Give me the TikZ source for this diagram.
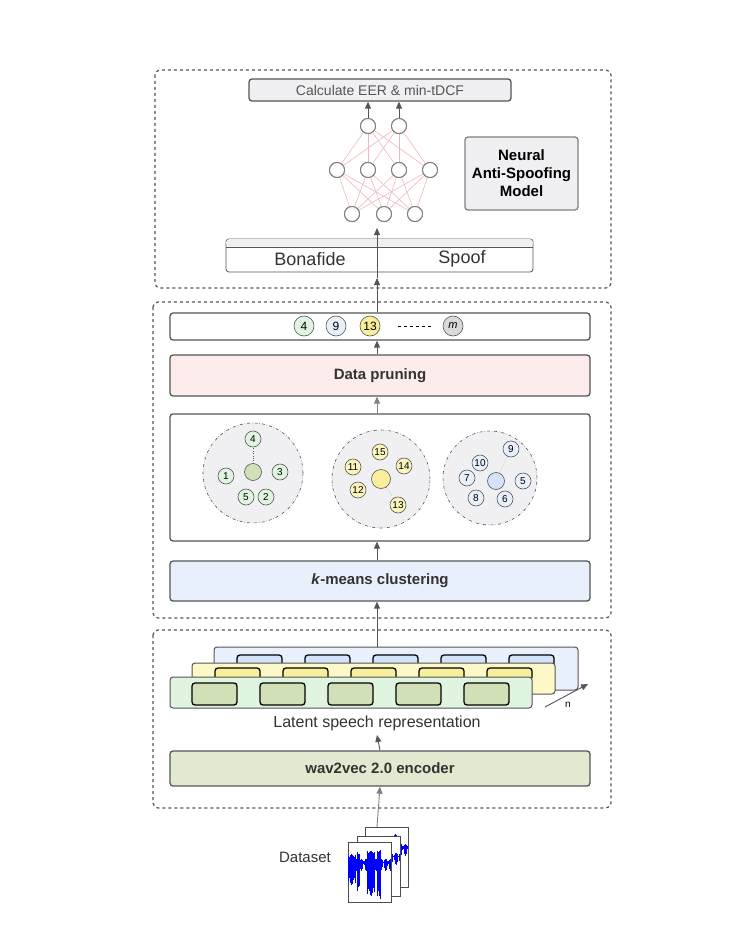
\documentclass[tikz,border=0pt]{standalone}
\usepackage{fontspec}
\setmainfont{Liberation Sans}
\usetikzlibrary{arrows.meta}
\definecolor{edge}{HTML}{555555}
\definecolor{gfill}{HTML}{DFF5DF}\definecolor{gdark}{HTML}{D2E0B8}
\definecolor{yfill}{HTML}{FCF8C8}\definecolor{ydark}{HTML}{F8EE9C}
\definecolor{bfill}{HTML}{E8F0FC}\definecolor{bdark}{HTML}{D2E3FA}
\definecolor{pink}{HTML}{FDECEC}\definecolor{wfill}{HTML}{E1EAD0}
\definecolor{cgray}{HTML}{F0F0F2}\definecolor{nnline}{HTML}{F0B8B8}
\tikzset{
 dbox/.style={draw=edge,dashed,line width=1.2pt,rounded corners=5pt},
 box/.style={draw=edge,line width=1.3pt,rounded corners=3pt},
 arr/.style={draw=edge,line width=0.9pt,-{Triangle[length=7pt,width=6pt]}},
 neuron/.style={circle,draw=gray,line width=1pt,fill=white,minimum size=15pt,inner sep=0},
 sn/.style={circle,draw=edge,line width=0.6pt,minimum size=16pt,inner sep=0,font=\fontsize{10}{10}\selectfont},
 clus/.style={circle,draw=edge,dash dot,fill=cgray,line width=0.6pt},
 ibox/.style={draw=black,line width=1.3pt,rounded corners=3pt},
}
\begin{document}
\begin{tikzpicture}[x=1pt,y=-1pt]
\useasboundingbox (0,0) rectangle (750,933);
% dashed groups
\draw[dbox] (155,70) rectangle (611,288);
\draw[dbox] (153,302) rectangle (611,618);
\draw[dbox] (153,630) rectangle (611,808);
% top section
\node[box,fill=cgray,minimum width=262pt,minimum height=22pt,inner sep=0,font=\fontsize{14}{14}\selectfont,text=edge] (calc) at (380,90) {Calculate EER \& min-tDCF};
\node[box,draw=gray,fill=cgray,minimum width=113pt,minimum height=73pt,align=center,font=\bfseries\fontsize{15}{18}\selectfont] (nasm) at (521.5,173.5) {Neural\\Anti-Spoofing\\Model};
\foreach \n/\x/\y in {t1/368/126,t2/399/126,m1/337/170,m2/368/170,m3/399/170,m4/430/170,b1/352/214,b2/384/214,b3/415/214}
  \node[neuron] (\n) at (\x,\y) {};
\foreach \a in {t1,t2} \foreach \b in {m1,m2,m3,m4} \draw[nnline,line width=0.6pt] (\a) -- (\b);
\foreach \a in {m1,m2,m3,m4} \foreach \b in {b1,b2,b3} \draw[nnline,line width=0.6pt] (\a) -- (\b);
\foreach \n/\x/\y in {t1/368/126,t2/399/126,m1/337/170,m2/368/170,m3/399/170,m4/430/170,b1/352/214,b2/384/214,b3/415/214}
  \node[neuron] at (\x,\y) {};
\draw[arr] (t1) -- (t1|-calc.south);
\draw[arr] (t2) -- (t2|-calc.south);
\node[draw=edge,line width=0.8pt,rounded corners=3pt,minimum width=307pt,minimum height=33pt,inner sep=0] (bs) at (379.5,255.5) {};
\fill[cgray,rounded corners=3pt] ([shift={(0.6,0.6)}]bs.north west) rectangle ([shift={(-0.6,8)}]bs.north east);
\draw[edge,line width=0.8pt] (226,247) -- (533,247);
\node[font=\fontsize{18}{18}\selectfont,text=black!80] (bona) at (310,259) {Bonafide};
\node[font=\fontsize{18}{18}\selectfont,text=black!80] (spoof) at (462,259) {Spoof};
% middle section
\node[box,fill=white,minimum width=420pt,minimum height=27pt,inner sep=0] (strip) at (380,326.5) {};
\node[sn,fill=gfill,minimum size=20pt,font=\fontsize{12}{12}\selectfont] (s4) at (304,326) {4};
\node[sn,fill=bfill,minimum size=20pt,font=\fontsize{12}{12}\selectfont] (s9) at (336,326) {9};
\node[sn,fill=ydark,minimum size=20pt,font=\fontsize{12}{12}\selectfont] (s13) at (370,326) {13};
\draw[line width=0.8pt,dashed] (398,326) -- (433,326);
\node[sn,fill=gray!30,minimum size=20pt,font=\itshape\fontsize{11}{11}\selectfont] (sm) at (453,326) {m};
\node[box,fill=pink,minimum width=420pt,minimum height=41pt,font=\bfseries\fontsize{15}{15}\selectfont,text=black!80] (prune) at (380,375.5) {Data pruning};
\node[box,fill=white,minimum width=420pt,minimum height=127pt] (cl) at (380,477.5) {};
\node[box,fill=bfill,minimum width=420pt,minimum height=40pt,font=\fontsize{15}{15}\selectfont,text=black!80] (km) at (380,581) {\textbf{\textit{k}-means clustering}};
% clusters
\node[clus,minimum size=100pt] (c1) at (253,473) {};
\node[clus,minimum size=98pt] (c2) at (381,479) {};
\node[clus,minimum size=94pt] (c3) at (490,478) {};
\node[sn,fill=gdark,minimum size=17pt] (g0) at (253,472) {};
\foreach \l/\x/\y in {4/253/439,1/226/476,3/280/472,5/246/497,2/266/497}
  \node[sn,fill=gfill] (g\l) at (\x,\y) {\l};
\draw[dotted,edge] (g0) -- (g4);
\node[sn,fill=ydark,minimum size=19pt] (y0) at (381,479) {};
\foreach \l/\x/\y in {15/380/452,11/353/467,14/404/466,12/358/490,13/398/505}
  \node[sn,fill=yfill!70!ydark] (y\l) at (\x,\y) {\l};
\draw[dotted,edge] (y0) -- (y13);
\node[sn,fill=bdark,minimum size=17pt] (u0) at (496,481) {};
\foreach \l/\x/\y in {9/511/449,10/480/463,7/467/478,5/523/481,8/476/498,6/505/499}
  \node[sn,fill=bfill] (u\l) at (\x,\y) {\l};
\draw[dotted,edge] (u0) -- (u9);
% bottom section
\node[draw=edge,line width=1pt,fill=bfill,rounded corners=3pt,minimum width=364pt,minimum height=43pt] (sb) at (396,668.5) {};
\foreach \x in {237,305,373,441,509} \draw[ibox,fill=bdark] (\x,664) -- (\x,655) -- (\x+45,655) -- (\x+45,664);
\node[draw=edge,line width=1pt,fill=yfill,rounded corners=3pt,minimum width=363pt,minimum height=31pt] (sy) at (373.5,678.5) {};
\foreach \x in {215,283,351,419,487} \draw[ibox,fill=ydark] (\x,678) -- (\x,668) -- (\x+45,668) -- (\x+45,678);
\node[draw=edge,line width=1pt,fill=gfill,rounded corners=3pt,minimum width=362pt,minimum height=31pt] (sg) at (351,692.5) {};
\foreach \x in {192,260,328,396,464} \draw[ibox,fill=gdark] (\x,683) rectangle (\x+45,705);
\coordinate (n0) at (545,707); \coordinate (n1) at (588,684);
\draw[arr] (n0) -- (n1);
\node[font=\fontsize{10}{10}\selectfont\rmfamily] (nl) at (568,705) {n};
\node[font=\fontsize{16}{16}\selectfont,text=black!80] (lat) at (377,723) {Latent speech representation};
\node[box,fill=wfill,minimum width=420pt,minimum height=35pt,font=\bfseries\fontsize{15}{15}\selectfont,text=black!80] (w2v) at (380,768.5) {wav2vec 2.0 encoder};
% dataset
\node[font=\fontsize{15}{15}\selectfont,text=black!80] (ds) at (305,857) {Dataset};
\foreach \dx/\dy/\s in {17/-15/1,9/-6/2,0/0/3}{
 \begin{scope}[shift={(348+\dx,842+\dy)}]
 \draw[fill=white,draw=black!70,line width=0.6pt] (0,0) rectangle (43,60);
 \clip (0,0) rectangle (43,60);
 \foreach \i in {0,...,42}{
   \pgfmathsetmacro{\a}{(abs(sin(\i*37+\s*50))*5+ (\i>18 && \i<27 ? 14 : 0) + (\i>28 && \i<33 ? 16 : 0) + (\i<8 ? 8 : 0) + (\i>8 && \i<12 ? 12 : 0))}
   \draw[blue,line width=0.9pt] (\i+0.5,20-\a*0.6) -- (\i+0.5,20+\a*1.8);
 }
 \draw[blue,line width=0.6pt] (0,20) -- (43,20);
 \end{scope}}
\coordinate (dtop) at (377,827);
% connectors
\draw[arr,draw=gray] (dtop) -- (w2v.south);
\draw[arr] (w2v.north) -- (377,735);
\draw[arr] (sb.north-|377,0) -- (km.south-|377,0);
\draw[line width=0.9pt,edge] (377,647) -- (377,630);
\draw[arr] (km.north-|377,0) -- (cl.south-|377,0);
\draw[arr,draw=gray] (cl.north-|377,0) -- (prune.south-|377,0);
\draw[arr] (prune.north-|377,0) -- (strip.south-|377,0);
\draw[arr] (strip.north-|377,0) -- (377,278);
\draw[arr] (377,278) -- (377,228);
\end{tikzpicture}
\end{document}
